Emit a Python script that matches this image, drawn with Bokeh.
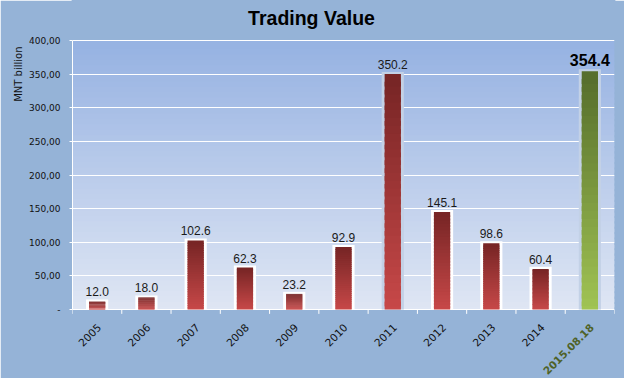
import numpy as np
from math import pi
from bokeh.plotting import figure
from bokeh.models import Range1d, FactorRange, FixedTicker, BoxAnnotation, Title
from bokeh.core.properties import value
from bokeh.embed import file_html
from bokeh.resources import INLINE

# ---- data ----
chart_title = "Trading Value"
y_title = "MNT billion"
categories = ["2005", "2006", "2007", "2008", "2009", "2010", "2011", "2012", "2013", "2014", "2015.08.18"]
values = [12.0, 18.0, 102.6, 62.3, 23.2, 92.9, 350.2, 145.1, 98.6, 60.4, 354.4]
value_labels = ["12.0", "18.0", "102.6", "62.3", "23.2", "92.9", "350.2", "145.1", "98.6", "60.4", "354.4"]
y_ticks = [0, 50, 100, 150, 200, 250, 300, 350, 400]
y_tick_labels = ["-", "50,00", "100,00", "150,00", "200,00", "250,00", "300,00", "350,00", "400,00"]
highlighted = ["2011", "2015.08.18"]
current = "2015.08.18"

# ---- styles ----
RED_TOP, RED_BOT = (119, 37, 37), (201, 73, 73)
GRN_TOP, GRN_BOT = (86, 110, 44), (162, 197, 84)
BG_TOP, BG_BOT = (150, 178, 226), (224, 231, 244)
OUTER = "#95b3d7"
FONT = "DejaVu Sans"
Y_MIN, Y_MAX = 0, 400
PX_PER_UNIT = 269 / 400
BELOW = 69 / PX_PER_UNIT   # room under the axis for slanted category labels
ABOVE = 40 / PX_PER_UNIT   # room above the plot area for the title

def mix(c1, c2, t):
    return "#%02x%02x%02x" % tuple(int(round(a + (b - a) * t)) for a, b in zip(c1, c2))

p = figure(width=624, height=378,
           x_range=FactorRange(*categories), y_range=Range1d(Y_MIN - BELOW, Y_MAX + ABOVE),
           x_axis_type=None,
           output_backend="svg", toolbar_location=None,
           min_border_left=72, min_border_right=10, min_border_top=0, min_border_bottom=0)

p.border_fill_color = OUTER
p.background_fill_color = OUTER
p.outline_line_color = OUTER
p.outline_line_width = 2

# y-axis title at the top end of the axis
p.add_layout(Title(text=y_title, align="right", text_font=FONT, text_font_size="10px",
                   text_font_style="normal", text_color="#111111", standoff=6, offset=46), "left")

# plot-area vertical gradient (overlapping bands to avoid seams)
nb = 50
step = (Y_MAX - Y_MIN) / nb
for i in range(nb):
    lo = Y_MIN + step * i
    hi = lo + step
    t = (i + 0.5) / nb
    p.add_layout(BoxAnnotation(bottom=max(Y_MIN, lo - 0.6 * step), top=hi,
                               fill_color=mix(BG_BOT, BG_TOP, t),
                               fill_alpha=1.0, line_color=None, level="image"))

# grid
p.xgrid.grid_line_color = None
p.ygrid.grid_line_color = "white"
p.ygrid.grid_line_width = 1

# category boundary ticks under the axis
bounds = list(range(len(categories) + 1))
p.segment(x0=bounds, y0=Y_MIN, x1=bounds, y1=Y_MIN - 6.5, line_color="white", line_width=1)

# bar borders
border_pad = 3.0
border_colors = ["#c3d1e6" if c in highlighted else "#ffffff" for c in categories]
p.vbar(x=categories, top=[v + border_pad for v in values], bottom=0, width=0.45,
       fill_color=border_colors, line_color=None)

# gradient bars
ns = 30
xs, bots, tops, cols = [], [], [], []
for c, v in zip(categories, values):
    top_c, bot_c = (GRN_TOP, GRN_BOT) if c == current else (RED_TOP, RED_BOT)
    for k in range(ns):
        xs.append(c)
        bots.append(max(0.0, v * (k - 0.6) / ns))
        tops.append(v * (k + 1) / ns)
        cols.append(mix(bot_c, top_c, (k + 0.5) / ns))
p.vbar(x=xs, bottom=bots, top=tops, width=0.33, fill_color=cols, line_color=None)

# value labels
normal_idx = [i for i, c in enumerate(categories) if c != current]
cur_idx = [i for i, c in enumerate(categories) if c == current]
p.text(x=[categories[i] for i in normal_idx], y=[values[i] + border_pad for i in normal_idx],
       text=[value_labels[i] for i in normal_idx], text_align="center", text_baseline="bottom",
       y_offset=-3, text_font=value("Liberation Sans"), text_font_size="12px", text_color="#1a1a1a")
p.text(x=[categories[i] for i in cur_idx], y=[values[i] + border_pad for i in cur_idx],
       text=[value_labels[i] for i in cur_idx], text_align="center", text_baseline="bottom",
       y_offset=-3, text_font=value("Liberation Sans"), text_font_size="16px",
       text_font_style="bold", text_color="#000000")

# category labels (slanted), current period in bold green
label_colors = ["#4f6228" if c == current else "#111111" for c in categories]
label_styles = ["bold" if c == current else "normal" for c in categories]
p.text(x=categories, y=Y_MIN, text=categories, angle=pi / 4, text_align="right",
       text_baseline="middle", x_offset=2, y_offset=16,
       text_font=value(FONT), text_font_size="10.5px",
       text_color=label_colors, text_font_style=label_styles)

# chart title, centred on the figure above the plot area
p.text(x=[len(categories) / 2], y=[Y_MAX], text=[chart_title], text_align="center",
       text_baseline="middle", x_offset=-32, y_offset=-23,
       text_font=value("Liberation Sans"), text_font_size="19.5px", text_font_style="bold",
       text_color="#000000")

# y axis
p.yaxis.ticker = FixedTicker(ticks=y_ticks)
p.yaxis.bounds = (Y_MIN, Y_MAX)
p.yaxis.major_label_overrides = {t: l for t, l in zip(y_ticks, y_tick_labels)}
p.yaxis.axis_line_color = "white"
p.yaxis.major_tick_line_color = "white"
p.yaxis.major_tick_out = 3
p.yaxis.major_tick_in = 0
p.yaxis.minor_tick_line_color = None
p.yaxis.major_label_standoff = 9
p.yaxis.major_label_text_font = FONT
p.yaxis.major_label_text_font_size = "9px"
p.yaxis.major_label_text_color = "#111111"

open("out.html", "w").write(file_html(p, INLINE))
